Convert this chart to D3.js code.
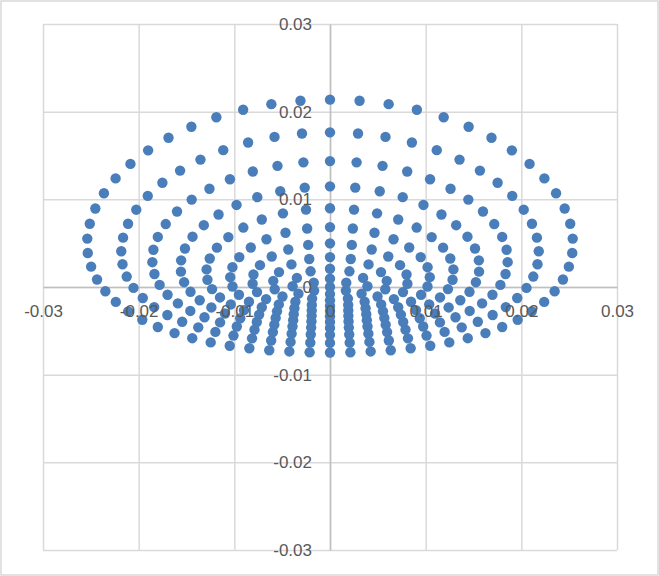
<!DOCTYPE html>
<html><head><meta charset="utf-8">
<script src="https://cdn.jsdelivr.net/npm/d3@7"></script>
<style>html,body{margin:0;padding:0;background:#fff;} svg{display:block;}</style>
</head><body><svg id="chart" width="659" height="576"></svg>
<script>
const xTicks = [-0.03, -0.02, -0.01, 0, 0.01, 0.02, 0.03];
const xTickLabels = ["-0.03", "-0.02", "-0.01", "0", "0.01", "0.02", "0.03"];
const yTicks = [-0.03, -0.02, -0.01, 0, 0.01, 0.02, 0.03];
const yTickLabels = ["-0.03", "-0.02", "-0.01", "0", "0.01", "0.02", "0.03"];

// spot positions, ring by ring (innermost first)
const centerX = [0];
const centerY = [0];
const ring1X = [0, 0.0017, 0.00166, 0, -0.00166, -0.0017];
const ring1Y = [0.00095, 0.00048, -0.00041, -0.00081, -0.00041, 0.00048];
const ring2X = [0, 0.00203, 0.00346, 0.00391, 0.0033, 0.00187, 0, -0.00187, -0.0033, -0.00391, -0.00346, -0.00203];
const ring2Y = [0.00208, 0.00179, 0.00104, 0.00009, -0.00076, -0.00132, -0.00152, -0.00132, -0.00076, 0.00009, 0.00104, 0.00179];
const ring3X = [0, 0.00217, 0.00403, 0.00533, 0.00593, 0.00578, 0.00497, 0.00362, 0.0019, 0, -0.0019, -0.00362, -0.00497, -0.00578, -0.00593, -0.00533, -0.00403, -0.00217];
const ring3Y = [0.00341, 0.00319, 0.00258, 0.0017, 0.0007, -0.00026, -0.00108, -0.00168, -0.00204, -0.00216, -0.00204, -0.00168, -0.00108, -0.00026, 0.0007, 0.0017, 0.00258, 0.00319];
const ring4X = [0, 0.00228, 0.00436, 0.00609, 0.00732, 0.008, 0.00809, 0.00763, 0.00668, 0.00535, 0.00372, 0.00191, 0, -0.00191, -0.00372, -0.00535, -0.00668, -0.00763, -0.00809, -0.008, -0.00732, -0.00609, -0.00436, -0.00228];
const ring4Y = [0.00498, 0.0048, 0.00428, 0.00348, 0.00249, 0.00142, 0.00037, -0.00058, -0.00138, -0.00199, -0.00242, -0.00267, -0.00275, -0.00267, -0.00242, -0.00199, -0.00138, -0.00058, 0.00037, 0.00142, 0.00249, 0.00348, 0.00428, 0.0048];
const ring5X = [0, 0.00239, 0.00465, 0.00664, 0.00828, 0.00948, 0.0102, 0.01043, 0.01019, 0.00952, 0.00847, 0.00713, 0.00554, 0.00379, 0.00192, 0, -0.00192, -0.00379, -0.00554, -0.00713, -0.00847, -0.00952, -0.01019, -0.01043, -0.0102, -0.00948, -0.00828, -0.00664, -0.00465, -0.00239];
const ring5Y = [0.00683, 0.00667, 0.00619, 0.00545, 0.0045, 0.00341, 0.00226, 0.00112, 0.00006, -0.00088, -0.00168, -0.00231, -0.00278, -0.0031, -0.00329, -0.00335, -0.00329, -0.0031, -0.00278, -0.00231, -0.00168, -0.00088, 0.00006, 0.00112, 0.00226, 0.00341, 0.0045, 0.00545, 0.00619, 0.00667];
const ring6X = [0, 0.00251, 0.00492, 0.00713, 0.00906, 0.01063, 0.01182, 0.01257, 0.0129, 0.01281, 0.01233, 0.0115, 0.01037, 0.00899, 0.00741, 0.00568, 0.00385, 0.00194, 0, -0.00194, -0.00385, -0.00568, -0.00741, -0.00899, -0.01037, -0.0115, -0.01233, -0.01281, -0.0129, -0.01257, -0.01182, -0.01063, -0.00906, -0.00713, -0.00492, -0.00251];
const ring6Y = [0.00898, 0.00883, 0.0084, 0.0077, 0.00678, 0.00569, 0.00449, 0.00325, 0.00201, 0.00083, -0.00024, -0.00119, -0.00199, -0.00264, -0.00315, -0.00353, -0.00378, -0.00393, -0.00398, -0.00393, -0.00378, -0.00353, -0.00315, -0.00264, -0.00199, -0.00119, -0.00024, 0.00083, 0.00201, 0.00325, 0.00449, 0.00569, 0.00678, 0.0077, 0.0084, 0.00883];
const ring7X = [0, 0.00264, 0.0052, 0.0076, 0.00977, 0.01165, 0.01319, 0.01437, 0.01516, 0.01556, 0.01558, 0.01525, 0.01458, 0.01362, 0.0124, 0.01098, 0.00938, 0.00765, 0.00582, 0.00392, 0.00197, 0, -0.00197, -0.00392, -0.00582, -0.00765, -0.00938, -0.01098, -0.0124, -0.01362, -0.01458, -0.01525, -0.01558, -0.01556, -0.01516, -0.01437, -0.01319, -0.01165, -0.00977, -0.0076, -0.0052, -0.00264];
const ring7Y = [0.01148, 0.01134, 0.01092, 0.01025, 0.00936, 0.00827, 0.00705, 0.00574, 0.00439, 0.00304, 0.00175, 0.00055, -0.00055, -0.00151, -0.00233, -0.00302, -0.00356, -0.00399, -0.0043, -0.00451, -0.00463, -0.00467, -0.00463, -0.00451, -0.0043, -0.00399, -0.00356, -0.00302, -0.00233, -0.00151, -0.00055, 0.00055, 0.00175, 0.00304, 0.00439, 0.00574, 0.00705, 0.00827, 0.00936, 0.01025, 0.01092, 0.01134];
const ring8X = [0, 0.00278, 0.00549, 0.00807, 0.01046, 0.0126, 0.01446, 0.01599, 0.01717, 0.018, 0.01846, 0.01857, 0.01835, 0.01781, 0.01698, 0.0159, 0.0146, 0.01312, 0.01149, 0.00974, 0.00789, 0.00597, 0.00401, 0.00201, 0, -0.00201, -0.00401, -0.00597, -0.00789, -0.00974, -0.01149, -0.01312, -0.0146, -0.0159, -0.01698, -0.01781, -0.01835, -0.01857, -0.01846, -0.018, -0.01717, -0.01599, -0.01446, -0.0126, -0.01046, -0.00807, -0.00549, -0.00278];
const ring8Y = [0.01436, 0.01422, 0.01382, 0.01317, 0.01229, 0.01121, 0.00997, 0.00861, 0.00718, 0.00571, 0.00425, 0.00283, 0.00148, 0.00024, -0.00088, -0.00187, -0.00273, -0.00345, -0.00404, -0.00451, -0.00487, -0.00514, -0.00532, -0.00542, -0.00546, -0.00542, -0.00532, -0.00514, -0.00487, -0.00451, -0.00404, -0.00345, -0.00273, -0.00187, -0.00088, 0.00024, 0.00148, 0.00283, 0.00425, 0.00571, 0.00718, 0.00861, 0.00997, 0.01121, 0.01229, 0.01317, 0.01382, 0.01422];
const ring9X = [0, 0.00293, 0.0058, 0.00856, 0.01116, 0.01354, 0.01567, 0.01752, 0.01905, 0.02025, 0.02111, 0.02163, 0.02182, 0.02169, 0.02125, 0.02054, 0.01957, 0.01838, 0.017, 0.01545, 0.01377, 0.01198, 0.01009, 0.00815, 0.00615, 0.00412, 0.00206, 0, -0.00206, -0.00412, -0.00615, -0.00815, -0.01009, -0.01198, -0.01377, -0.01545, -0.017, -0.01838, -0.01957, -0.02054, -0.02125, -0.02169, -0.02182, -0.02163, -0.02111, -0.02025, -0.01905, -0.01752, -0.01567, -0.01354, -0.01116, -0.00856, -0.0058, -0.00293];
const ring9Y = [0.01764, 0.01751, 0.01712, 0.01648, 0.01561, 0.01453, 0.01328, 0.01189, 0.01039, 0.00882, 0.00722, 0.00563, 0.00408, 0.00259, 0.00119, -0.0001, -0.00126, -0.00229, -0.00319, -0.00396, -0.0046, -0.00512, -0.00554, -0.00586, -0.0061, -0.00626, -0.00635, -0.00638, -0.00635, -0.00626, -0.0061, -0.00586, -0.00554, -0.00512, -0.0046, -0.00396, -0.00319, -0.00229, -0.00126, -0.0001, 0.00119, 0.00259, 0.00408, 0.00563, 0.00722, 0.00882, 0.01039, 0.01189, 0.01328, 0.01453, 0.01561, 0.01648, 0.01712, 0.01751];
const ring10X = [0, 0.00309, 0.00613, 0.00908, 0.01188, 0.01449, 0.01688, 0.01901, 0.02086, 0.02241, 0.02363, 0.02453, 0.02511, 0.02537, 0.02532, 0.02497, 0.02435, 0.02348, 0.02239, 0.02109, 0.01962, 0.018, 0.01625, 0.0144, 0.01247, 0.01048, 0.00843, 0.00635, 0.00425, 0.00213, 0, -0.00213, -0.00425, -0.00635, -0.00843, -0.01048, -0.01247, -0.0144, -0.01625, -0.018, -0.01962, -0.02109, -0.02239, -0.02348, -0.02435, -0.02497, -0.02532, -0.02537, -0.02511, -0.02453, -0.02363, -0.02241, -0.02086, -0.01901, -0.01688, -0.01449, -0.01188, -0.00908, -0.00613, -0.00309];
const ring10Y = [0.02137, 0.02124, 0.02086, 0.02022, 0.01936, 0.01828, 0.01702, 0.01559, 0.01404, 0.01239, 0.01069, 0.00895, 0.00722, 0.00552, 0.00388, 0.00232, 0.00086, -0.00048, -0.0017, -0.00278, -0.00373, -0.00456, -0.00526, -0.00584, -0.00632, -0.0067, -0.00699, -0.00721, -0.00735, -0.00744, -0.00747, -0.00744, -0.00735, -0.00721, -0.00699, -0.0067, -0.00632, -0.00584, -0.00526, -0.00456, -0.00373, -0.00278, -0.0017, -0.00048, 0.00086, 0.00232, 0.00388, 0.00552, 0.00722, 0.00895, 0.01069, 0.01239, 0.01404, 0.01559, 0.01702, 0.01828, 0.01936, 0.02022, 0.02086, 0.02124];

const ringsX = [centerX, ring1X, ring2X, ring3X, ring4X, ring5X, ring6X, ring7X, ring8X, ring9X, ring10X];
const ringsY = [centerY, ring1Y, ring2Y, ring3Y, ring4Y, ring5Y, ring6Y, ring7Y, ring8Y, ring9Y, ring10Y];
const points = [];
ringsX.forEach((xs, r) => {
  const ys = ringsY[r];
  xs.forEach((v, i) => { if (ys[i] !== undefined) points.push({x: v, y: ys[i]}); });
});

const W = 659, H = 576;
const svg = d3.select("#chart");
svg.append("rect").attr("x", 1).attr("y", 1).attr("width", W - 2).attr("height", H - 2)
  .attr("fill", "#ffffff").attr("stroke", "#d9d9d9").attr("stroke-width", 1.5);

const x = d3.scaleLinear().domain([-0.03, 0.03]).range([43, 617]);
const y = d3.scaleLinear().domain([-0.03, 0.03]).range([550, 24]);

const FONT = "'Liberation Sans', Arial, sans-serif";
const gridColor = "#d9d9d9";
const LW = 1.5;

// vertical gridlines
svg.append("g").attr("class", "xgrid")
  .attr("transform", `translate(0,${y(-0.03)})`)
  .call(d3.axisBottom(x).tickValues(xTicks).tickSize(-(y(-0.03) - y(0.03))).tickFormat(""))
  .call(g => g.select(".domain").remove())
  .call(g => g.selectAll(".tick line").attr("stroke", gridColor).attr("stroke-width", LW));

// horizontal gridlines
svg.append("g").attr("class", "ygrid")
  .attr("transform", `translate(${x(-0.03)},0)`)
  .call(d3.axisLeft(y).tickValues(yTicks).tickSize(-(x(0.03) - x(-0.03))).tickFormat(""))
  .call(g => g.select(".domain").remove())
  .call(g => g.selectAll(".tick line").attr("stroke", gridColor).attr("stroke-width", LW));

// axes crossing at zero
const xAxisG = svg.append("g").attr("class", "xaxis")
  .attr("transform", `translate(0,${y(0)})`)
  .call(d3.axisBottom(x).tickValues(xTicks).tickSize(0).tickSizeOuter(0).tickPadding(18)
    .tickFormat((d, i) => xTickLabels[i]));
xAxisG.select(".domain").attr("stroke", "#bfbfbf").attr("stroke-width", LW);

const yAxisG = svg.append("g").attr("class", "yaxis")
  .attr("transform", `translate(${x(0)},0)`)
  .call(d3.axisLeft(y).tickValues(yTicks).tickSize(0).tickSizeOuter(0).tickPadding(18)
    .tickFormat((d, i) => yTickLabels[i]));
yAxisG.select(".domain").attr("stroke", "#bfbfbf").attr("stroke-width", LW);

// tick labels are redrawn on a top layer so they sit above the markers
xAxisG.selectAll(".tick text").remove();
yAxisG.selectAll(".tick text").remove();

// markers
svg.append("g").attr("class", "points")
  .selectAll("circle").data(points).join("circle")
  .attr("cx", d => x(d.x)).attr("cy", d => y(d.y)).attr("r", 5.2)
  .attr("fill", "#4a7ebb");

// labels on top
const labelLayer = svg.append("g").attr("class", "labels")
  .attr("font-family", FONT).attr("font-size", 17).attr("fill", "#595959");
labelLayer.append("g").attr("transform", `translate(0,${y(0)})`)
  .selectAll("text").data(xTicks).join("text")
  .attr("x", d => x(d) + 0.5).attr("y", 18).attr("dy", "0.71em")
  .attr("text-anchor", "middle").text((d, i) => xTickLabels[i]);
labelLayer.append("g").attr("transform", `translate(${x(0)},0)`)
  .selectAll("text").data(yTicks).join("text")
  .attr("x", -18).attr("y", d => y(d) + 0.5).attr("dy", "0.32em")
  .attr("text-anchor", "end").text((d, i) => yTickLabels[i]);
</script>
</body></html>
